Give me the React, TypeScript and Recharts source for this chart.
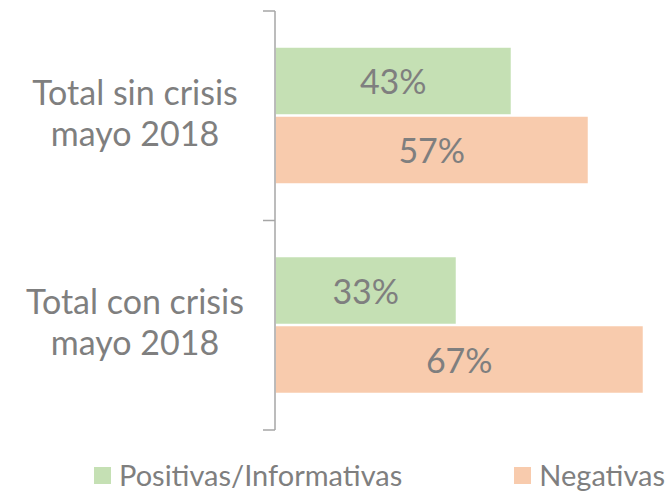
import React from 'react';
import { BarChart, Bar, XAxis, YAxis, Legend, LabelList } from 'recharts';

const categories = ['Total sin crisis|mayo 2018', 'Total con crisis|mayo 2018'];
const positivas = [0.43, 0.33];
const negativas = [0.57, 0.67];
const seriesNames = ['Positivas/Informativas', 'Negativas'];

const data = categories.map((name, i) => ({
  name,
  positivas: positivas[i],
  negativas: negativas[i],
}));

const W = 671;
const H = 492;
const MARGIN = { top: 11, right: 11, left: 0, bottom: 62 };
const BAND = (H - MARGIN.top - MARGIN.bottom) / categories.length;
const FONT = 'Lato, "Open Sans", sans-serif';
const GRAY = '#7F7F7F';
const AXIS = '#A6A6A6';
const GREEN = '#C5E0B4';
const ORANGE = '#F8CBAD';

const CategoryTick = ({ y, payload, index }: any) => {
  const lines = String(payload.value).split('|');
  const axisX = 275;
  return (
    <g>
      <line x1={axisX - 12} x2={axisX} y1={y - BAND / 2} y2={y - BAND / 2} stroke={AXIS} strokeWidth={1.5} />
      {index === categories.length - 1 && (
        <line x1={axisX - 12} x2={axisX} y1={y + BAND / 2} y2={y + BAND / 2} stroke={AXIS} strokeWidth={1.5} />
      )}
      <text x={135} y={y - 11} textAnchor="middle" fontFamily={FONT} fontSize={34} fill={GRAY}>
        {lines[0]}
      </text>
      <text x={135} y={y + 30} textAnchor="middle" fontFamily={FONT} fontSize={34} fill={GRAY}>
        {lines[1]}
      </text>
    </g>
  );
};

const ValueLabel = ({ x, y, width, height, value }: any) => {
  if (x == null || y == null) return null;
  return (
    <text
      x={x + width / 2}
      y={y + height / 2 + 13}
      textAnchor="middle"
      fontFamily={FONT}
      fontSize={34}
      fill={GRAY}
    >
      {`${Math.round(value * 100)}%`}
    </text>
  );
};

const LegendContent = () => {
  const colors = [GREEN, ORANGE];
  return (
    <div
      style={{
        display: 'flex',
        paddingLeft: 94,
        gap: 112,
        fontFamily: FONT,
        fontSize: 29,
        color: GRAY,
        lineHeight: '34px',
      }}
    >
      {seriesNames.map((n, i) => (
        <div key={n} style={{ display: 'flex', alignItems: 'center' }}>
          <span style={{ width: 17, height: 17, background: colors[i], marginRight: 8, display: 'inline-block' }} />
          <span>{n}</span>
        </div>
      ))}
    </div>
  );
};

export default function App() {
  return (
    <div style={{ position: 'absolute', left: 0, top: 0, background: '#fff' }}>
      <BarChart
        width={W}
        height={H}
        data={data}
        layout="vertical"
        margin={MARGIN}
        barSize={68}
        barGap={1}
      >
        <XAxis type="number" domain={[0, 0.7]} hide />
        <YAxis
          type="category"
          dataKey="name"
          width={275}
          axisLine={{ stroke: AXIS, strokeWidth: 1.5 }}
          tickLine={false}
          tick={<CategoryTick />}
          interval={0}
        />
        <Legend
          layout="vertical"
          align="center"
          verticalAlign="middle"
          content={<LegendContent />}
          wrapperStyle={{ left: 0, top: 458, width: W, height: 34 }}
        />
        <Bar dataKey="positivas" name={seriesNames[0]} fill={GREEN} stroke="#fff" strokeWidth={1.5} isAnimationActive={false}>
          <LabelList dataKey="positivas" content={ValueLabel} />
        </Bar>
        <Bar dataKey="negativas" name={seriesNames[1]} fill={ORANGE} stroke="#fff" strokeWidth={1.5} isAnimationActive={false}>
          <LabelList dataKey="negativas" content={ValueLabel} />
        </Bar>
      </BarChart>
    </div>
  );
}
